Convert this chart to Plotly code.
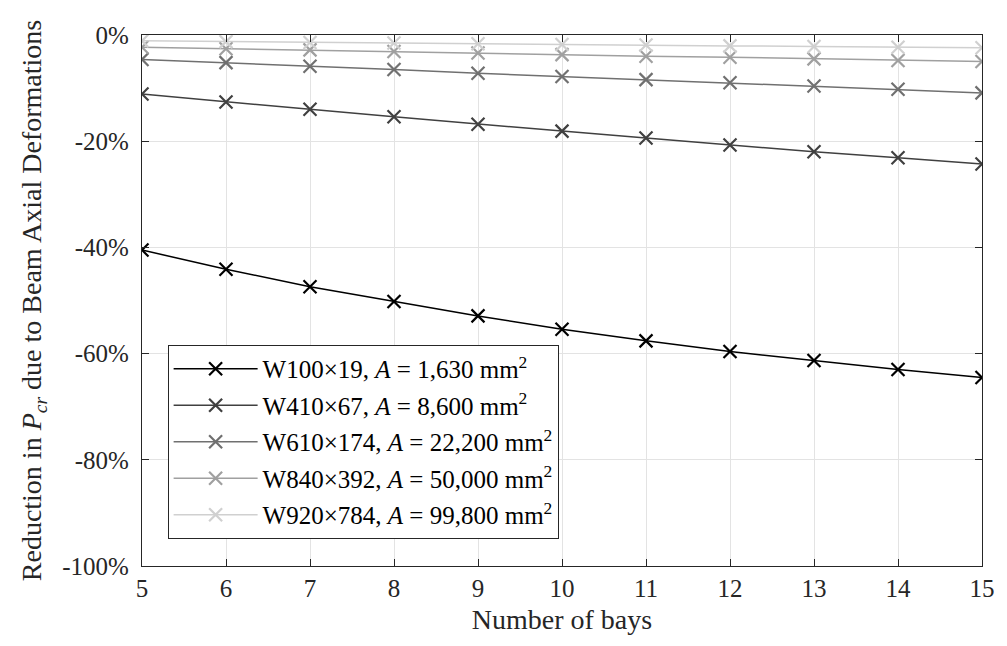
import plotly.graph_objects as go

# Number of bays in the frame
bays = [5, 6, 7, 8, 9, 10, 11, 12, 13, 14, 15]

# Reduction in critical load (%) for each beam section
w100x19 = [-40.5, -44.1, -47.4, -50.2, -52.9, -55.4, -57.6, -59.6, -61.3, -63.0, -64.5]
w410x67 = [-11.1, -12.6, -14.0, -15.4, -16.8, -18.1, -19.4, -20.7, -22.0, -23.1, -24.3]
w610x174 = [-4.6, -5.2, -5.9, -6.5, -7.2, -7.8, -8.4, -9.0, -9.6, -10.2, -10.9]
w840x392 = [-2.3, -2.6, -2.8, -3.1, -3.4, -3.7, -4.0, -4.2, -4.5, -4.8, -5.0]
w920x784 = [-1.1, -1.25, -1.4, -1.5, -1.65, -1.8, -1.9, -2.05, -2.15, -2.3, -2.4]

series_names = [
    "W100×19, <i>A</i> = 1,630 mm<sup>2</sup>",
    "W410×67, <i>A</i> = 8,600 mm<sup>2</sup>",
    "W610×174, <i>A</i> = 22,200 mm<sup>2</sup>",
    "W840×392, <i>A</i> = 50,000 mm<sup>2</sup>",
    "W920×784, <i>A</i> = 99,800 mm<sup>2</sup>",
]
series_values = [w100x19, w410x67, w610x174, w840x392, w920x784]
series_colors = ["#000000", "#404040", "#707070", "#a0a0a0", "#d0d0d0"]

y_tick_vals = [0, -20, -40, -60, -80, -100]
y_tick_text = ["0%", "-20%", "-40%", "-60%", "-80%", "-100%"]
x_tick_vals = bays

FONT = "Liberation Serif, Times New Roman, serif"
AXIS_COLOR = "#262626"
GRID_COLOR = "#e3e3e3"

fig = go.Figure()
for i, (name, vals, col) in enumerate(zip(series_names, series_values, series_colors)):
    fig.add_trace(go.Scatter(
        x=bays, y=vals, name=name, mode="lines+markers",
        line=dict(color=col, width=1.5),
        marker=dict(symbol="x-thin", size=13, color=col, line=dict(width=2.2, color=col)),
        legendgroup=f"g{i}",
    ))

fig.update_layout(
    width=1007, height=646,
    margin=dict(l=142, r=13, t=35, b=80),
    paper_bgcolor="white", plot_bgcolor="white",
    font=dict(family=FONT, color=AXIS_COLOR, size=25),
    legend=dict(
        x=0.0305, y=0.051, xanchor="left", yanchor="bottom",
        bgcolor="white", bordercolor=AXIS_COLOR, borderwidth=1,
        font=dict(family=FONT, size=25, color="#000000"),
        itemwidth=84, tracegroupgap=1,
    ),
    showlegend=True,
)

fig.update_xaxes(
    range=[5, 15], tickvals=x_tick_vals,
    showline=True, linecolor=AXIS_COLOR, linewidth=1.2, mirror="ticks",
    ticks="inside", ticklen=7, tickcolor=AXIS_COLOR,
    showgrid=True, gridcolor=GRID_COLOR, gridwidth=1, zeroline=False,
    tickfont=dict(size=25, color=AXIS_COLOR),
    title=dict(text="Number of bays", font=dict(size=28, color=AXIS_COLOR), standoff=8),
)
fig.update_yaxes(
    range=[-100, 0], tickvals=y_tick_vals, ticktext=y_tick_text,
    showline=True, linecolor=AXIS_COLOR, linewidth=1.2, mirror="ticks",
    ticks="inside", ticklen=7, tickcolor=AXIS_COLOR, ticklabelstandoff=7,
    showgrid=True, gridcolor=GRID_COLOR, gridwidth=1, zeroline=False,
    tickfont=dict(size=25, color=AXIS_COLOR),
    title=dict(text="Reduction in <i>P<sub>cr</sub></i> due to Beam Axial Deformations",
               font=dict(size=28, color=AXIS_COLOR), standoff=12),
)

fig.write_html("out.html")
